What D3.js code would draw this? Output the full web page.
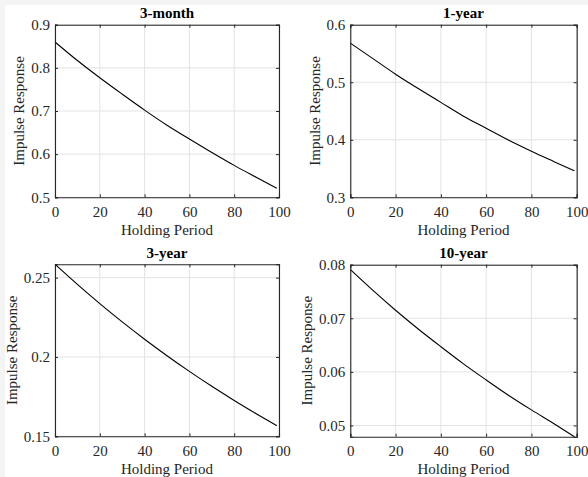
<!DOCTYPE html>
<html><head><meta charset="utf-8">
<script src="https://cdn.jsdelivr.net/npm/d3@7"></script>
<style>body{margin:0;background:#fff}svg{display:block}text{font-family:"Liberation Serif","Times New Roman",serif}</style>
</head><body>
<svg id="c" width="588" height="477"></svg>
<script>
const holding = [0,10,20,30,40,50,60,70,80,90,99];
const titles = ["3-month","1-year","3-year","10-year"];
const s3m = [0.860,0.817,0.777,0.739,0.702,0.667,0.635,0.604,0.574,0.546,0.521];
const s1y = [0.568,0.541,0.514,0.489,0.465,0.441,0.420,0.399,0.380,0.362,0.346];
const s3y = [0.2584,0.2457,0.2336,0.2221,0.2112,0.2008,0.1909,0.1815,0.1726,0.1641,0.1567];
const s10y = [0.0791,0.0752,0.0715,0.0680,0.0647,0.0615,0.0585,0.0556,0.0529,0.0503,0.0479];
const yDomains = [[0.5,0.9],[0.3,0.6],[0.15,0.2584],[0.0479,0.08]];
const yTicks = [[0.5,0.6,0.7,0.8,0.9],[0.3,0.4,0.5,0.6],[0.15,0.2,0.25],[0.05,0.06,0.07,0.08]];
const xTicks = [0,20,40,60,80,100];
const series = [s3m,s1y,s3y,s10y];

const boxes = [
  {x0:55,x1:279,y0:24.7,y1:197.3,lab:24},
  {x0:350.3,x1:576.7,y0:24.7,y1:197.3,lab:320},
  {x0:55,x1:279,y0:264.3,y1:436.3,lab:17},
  {x0:350.3,x1:576.7,y0:264.7,y1:436.7,lab:312}
];
const svg = d3.select("#c");
svg.append("rect").attr("x",0).attr("y",0).attr("width",588).attr("height",5).attr("fill","#f4f4f4");
svg.append("rect").attr("x",0).attr("y",0).attr("width",5).attr("height",477).attr("fill","#f4f4f4");
const font = "'Liberation Serif', 'Times New Roman', serif";
const axCol = "#262626";
const fmt = d3.format("~g");

boxes.forEach((b,i)=>{
  const x = d3.scaleLinear().domain([0,100]).range([b.x0,b.x1]);
  const y = d3.scaleLinear().domain(yDomains[i]).range([b.y1,b.y0]);
  const g = svg.append("g");
  g.append("rect").attr("x",b.x0).attr("y",b.y0).attr("width",b.x1-b.x0).attr("height",b.y1-b.y0).attr("fill","#fff");
  g.selectAll(".gx").data(xTicks).join("line").attr("class","gx")
    .attr("x1",d=>x(d)).attr("x2",d=>x(d)).attr("y1",b.y0).attr("y2",b.y1)
    .attr("stroke","#e3e3e3").attr("stroke-width",1);
  g.selectAll(".gy").data(yTicks[i]).join("line").attr("class","gy")
    .attr("x1",b.x0).attr("x2",b.x1).attr("y1",d=>y(d)).attr("y2",d=>y(d))
    .attr("stroke","#e3e3e3").attr("stroke-width",1);
  const data = holding.map((h,k)=>[h,series[i][k]]);
  g.append("path").datum(data)
    .attr("d",d3.line().x(d=>x(d[0])).y(d=>y(d[1])).curve(d3.curveMonotoneX))
    .attr("fill","none").attr("stroke","#000").attr("stroke-width",1.1);
  const ax = d3.axisBottom(x).tickValues(xTicks).tickSize(-3).tickPadding(9).tickFormat(fmt);
  const gxA = g.append("g").attr("transform",`translate(0,${b.y1})`).call(ax);
  const axT = d3.axisTop(x).tickValues(xTicks).tickSize(-3).tickFormat("");
  const gxT = g.append("g").attr("transform",`translate(0,${b.y0})`).call(axT);
  const ay = d3.axisLeft(y).tickValues(yTicks[i]).tickSize(-3).tickPadding(5).tickFormat(fmt);
  const gyA = g.append("g").attr("transform",`translate(${b.x0},0)`).call(ay);
  const ayR = d3.axisRight(y).tickValues(yTicks[i]).tickSize(-3).tickFormat("");
  const gyR = g.append("g").attr("transform",`translate(${b.x1},0)`).call(ayR);
  [gxA,gxT,gyA,gyR].forEach(a=>{
    a.attr("font-family",font).attr("font-size",15);
    a.select(".domain").attr("stroke",axCol).attr("stroke-width",1.1);
    a.selectAll(".tick line").attr("stroke",axCol);
    a.selectAll("text").attr("fill",axCol);
  });
  g.append("text").attr("x",(b.x0+b.x1)/2).attr("y",b.y1+37.5).attr("text-anchor","middle")
    .attr("font-family",font).attr("font-size",15).attr("fill",axCol).text("Holding Period");
  g.append("text").attr("transform",`translate(${b.lab},${(b.y0+b.y1)/2}) rotate(-90)`)
    .attr("text-anchor","middle")
    .attr("font-family",font).attr("font-size",15).attr("fill",axCol).text("Impulse Response");
  g.append("text").attr("x",(b.x0+b.x1)/2).attr("y",b.y0-6.5).attr("text-anchor","middle")
    .attr("font-family",font).attr("font-size",15).attr("font-weight","bold").attr("fill","#000").text(titles[i]);
});
</script>
</body></html>
